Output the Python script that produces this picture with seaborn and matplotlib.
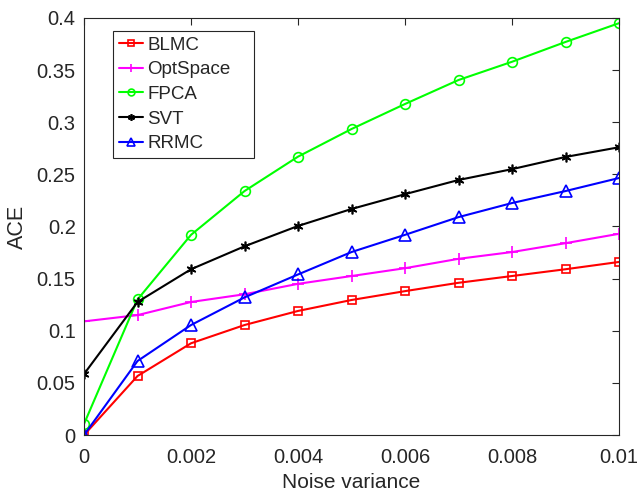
import numpy as np
import pandas as pd
import matplotlib
matplotlib.use("Agg")
import matplotlib.pyplot as plt
import seaborn as sns

noise = [0, 0.001, 0.002, 0.003, 0.004, 0.005, 0.006, 0.007, 0.008, 0.009, 0.01]
blmc = [0.0, 0.0566, 0.088, 0.1055, 0.119, 0.1295, 0.138, 0.146, 0.1525, 0.159, 0.166]
optspace = [0.109, 0.115, 0.1276, 0.135, 0.145, 0.1525, 0.160, 0.169, 0.1755, 0.184, 0.193]
fpca = [0.0106, 0.130, 0.192, 0.234, 0.267, 0.2935, 0.3175, 0.3405, 0.358, 0.377, 0.395]
svt = [0.0585, 0.1276, 0.159, 0.181, 0.2005, 0.2168, 0.231, 0.2446, 0.255, 0.2667, 0.276]
rrmc = [0.0, 0.071, 0.1055, 0.132, 0.154, 0.1755, 0.192, 0.209, 0.2225, 0.234, 0.2465]
methods = ["BLMC", "OptSpace", "FPCA", "SVT", "RRMC"]
x_ticks = [0, 0.002, 0.004, 0.006, 0.008, 0.01]
x_ticklabels = ["0", "0.002", "0.004", "0.006", "0.008", "0.01"]
y_ticks = [0, 0.05, 0.1, 0.15, 0.2, 0.25, 0.3, 0.35, 0.4]
y_ticklabels = ["0", "0.05", "0.1", "0.15", "0.2", "0.25", "0.3", "0.35", "0.4"]

series = {"BLMC": blmc, "OptSpace": optspace, "FPCA": fpca, "SVT": svt, "RRMC": rrmc}
rows = []
for m in methods:
    for xv, yv in zip(noise, series[m]):
        rows.append({"Noise variance": xv, "ACE": yv, "Method": m})
df = pd.DataFrame(rows)

sns.set_style("white")
plt.rcParams["font.family"] = ["Liberation Sans", "DejaVu Sans"]

colors = {"BLMC": "#ff0000", "OptSpace": "#ff00ff", "FPCA": "#00ff00", "SVT": "#000000", "RRMC": "#0000ff"}
markers = {"BLMC": "s", "OptSpace": "+", "FPCA": "o", "SVT": (6, 2, 0), "RRMC": "^"}
msizes = {"BLMC": 5.5, "OptSpace": 8, "FPCA": 7, "SVT": 7, "RRMC": 8}

fig = plt.figure(figsize=(6.39, 4.94), dpi=100)
ax = fig.add_axes([0.1315, 0.1194, 0.8372, 0.8442])

for m in methods:
    sub = df[df["Method"] == m]
    sns.lineplot(data=sub, x="Noise variance", y="ACE", ax=ax, color=colors[m],
                 marker=markers[m], markersize=msizes[m], markerfacecolor="none",
                 markeredgecolor=colors[m], markeredgewidth=1.2, linewidth=1.5,
                 label=m, estimator=None)

ax.set_xlim(0, 0.01)
ax.set_ylim(0, 0.4)
ax.set_xticks(x_ticks)
ax.set_xticklabels(x_ticklabels)
ax.set_yticks(y_ticks)
ax.set_yticklabels(y_ticklabels)
ax.tick_params(direction="in", length=5, width=0.8, top=True, right=True,
               labelsize=14.5, colors="#262626")
ax.tick_params(axis="x", pad=9)
ax.tick_params(axis="y", pad=6)
for s in ax.spines.values():
    s.set_color("#262626")
    s.set_linewidth(0.8)
ax.set_xlabel("Noise variance", fontsize=15, color="#262626", labelpad=5)
ax.set_ylabel("ACE", fontsize=15.5, color="#262626", labelpad=6)

leg_h = 0.30
leg = ax.legend(loc="upper left", bbox_to_anchor=(0.054, 0.969 - leg_h, 0.2636, leg_h),
                mode="expand", fontsize=13.5,
                frameon=True, fancybox=False, edgecolor="#262626", framealpha=1,
                borderpad=0.3, labelspacing=0.4, handlelength=1.3, handletextpad=0.25,
                borderaxespad=0, markerscale=0.7)
leg.get_frame().set_linewidth(0.8)

fig.savefig("out.png", dpi=100)
